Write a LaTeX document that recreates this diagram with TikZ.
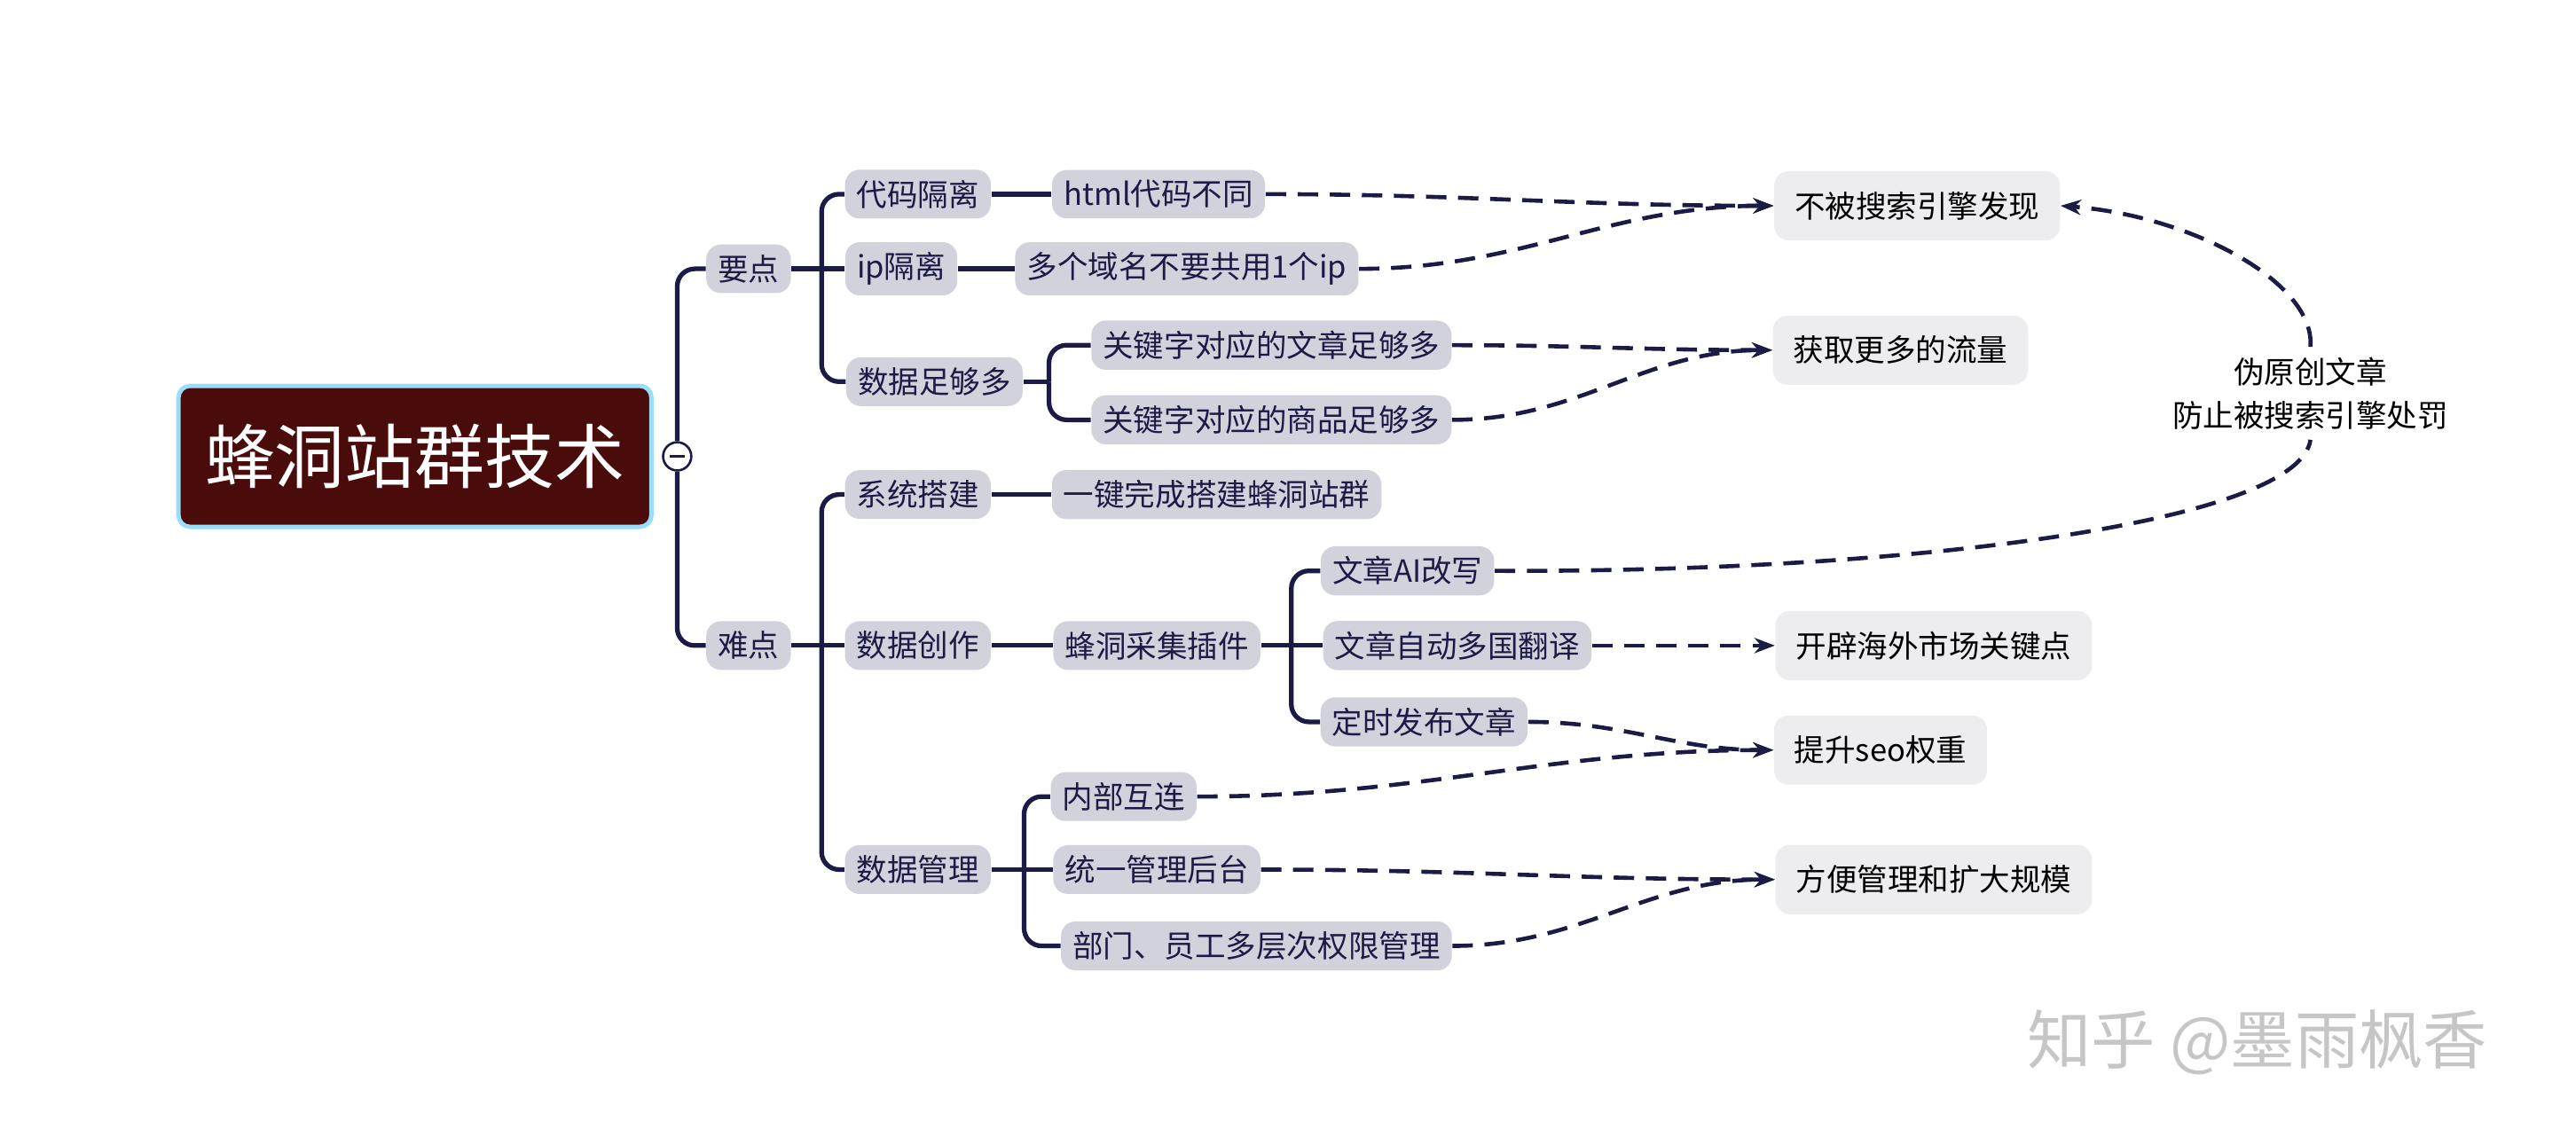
\documentclass[tikz,border=0pt]{standalone}
\usepackage{fontspec}
\setmainfont{Noto Sans CJK SC}
\usetikzlibrary{arrows.meta}
\definecolor{navy}{HTML}{1B1B45}
\definecolor{topicbg}{HTML}{D2D2DC}
\definecolor{notebg}{HTML}{EDEDF0}
\definecolor{rootbg}{HTML}{4A0B0B}
\tikzset{
  topic/.style={fill=topicbg,rounded corners=5pt,text=navy,inner xsep=4pt,inner ysep=3.5pt,font=\fontsize{10.5}{13}\selectfont},
  note/.style={fill=notebg,rounded corners=5pt,text=black,inner xsep=7pt,inner ysep=7pt,font=\fontsize{10.5}{13}\selectfont},
  tree/.style={draw=navy,line width=1.6pt,rounded corners=6pt},
  link/.style={draw=navy,line width=1.4pt,dash pattern=on 7pt off 4pt,-{Stealth[length=7pt]}}
}
\begin{document}
\begin{tikzpicture}[x=0.02cm,y=-0.02cm]
\useasboundingbox (0,0) rectangle (1552,685);
% root
\node[fill=rootbg,text=white,rounded corners=4pt,draw=cyan!40,line width=1.5pt,minimum width=5.7cm,minimum height=1.7cm,font=\fontsize{24}{28}\selectfont] (root) at (250,275) {蜂洞站群技术};
\node[circle,draw=navy,fill=white,line width=0.8pt,inner sep=0pt,minimum size=0.34cm] (fold) at (408,275) {};
\draw[navy,line width=0.8pt] ([xshift=-2.5pt]fold.center) -- ([xshift=2.5pt]fold.center);
% first level
\node[topic] (yd) at (451,162) {要点};
\node[topic] (nd) at (451,389) {难点};
\node[topic] (dmgl) at (553,117) {代码隔离};
\node[topic] (ipgl) at (543,162) {ip隔离};
\node[topic] (sjzg) at (563,230) {数据足够多};
\node[topic] (html) at (698,117) {html代码不同};
\node[topic] (dgym) at (715,162) {多个域名不要共用1个ip};
\node[topic] (wzzg) at (766,208) {关键字对应的文章足够多};
\node[topic] (spzg) at (766,253) {关键字对应的商品足够多};
\node[topic] (xtdj) at (553,298) {系统搭建};
\node[topic] (sjcz) at (553,389) {数据创作};
\node[topic] (sjgl) at (553,524) {数据管理};
\node[topic] (yjwc) at (733,298) {一键完成搭建蜂洞站群};
\node[topic] (cjcj) at (697,389) {蜂洞采集插件};
\node[topic] (aigx) at (848,344) {文章AI改写};
\node[topic] (dgfy) at (878,389) {文章自动多国翻译};
\node[topic] (dsfb) at (858,435) {定时发布文章};
\node[topic] (nbhl) at (677,480) {内部互连};
\node[topic] (tygl) at (697,524) {统一管理后台};
\node[topic] (bmyg) at (757,570) {部门、员工多层次权限管理};
% notes
\node[note] (bbss) at (1155,124) {不被搜索引擎发现};
\node[note] (hqll) at (1145,211) {获取更多的流量};
\node[note] (kpsc) at (1165,389) {开辟海外市场关键点};
\node[note] (tsqz) at (1133,452) {提升seo权重};
\node[note] (fbgl) at (1165,530) {方便管理和扩大规模};
\node[align=center,font=\fontsize{10.5}{15}\selectfont] (wyc) at (1392,237) {伪原创文章\\防止被搜索引擎处罚};
\node[text=gray!45,font=\fontsize{22}{26}\selectfont] (mark) at (1360,628) {知乎 @墨雨枫香};
% tree
\draw[tree] (fold.north) -- (408,185) |- (yd.west);
\draw[tree] (fold.south) -- (408,365) |- (nd.west);
\draw[tree] (yd.east) -- (495,162);
\draw[tree] (495,162) |- (dmgl.west);
\draw[tree] (495,162) |- (sjzg.west);
\draw[tree] (495,162) -- (ipgl.west);
\draw[tree] (dmgl.east) -- (html.west);
\draw[tree] (ipgl.east) -- (dgym.west);
\draw[tree] (sjzg.east) -- (632,230);
\draw[tree] (632,230) |- (wzzg.west);
\draw[tree] (632,230) |- (spzg.west);
\draw[tree] (nd.east) -- (495,389);
\draw[tree] (495,389) |- (xtdj.west);
\draw[tree] (495,389) |- (sjgl.west);
\draw[tree] (495,389) -- (sjcz.west);
\draw[tree] (xtdj.east) -- (yjwc.west);
\draw[tree] (sjcz.east) -- (cjcj.west);
\draw[tree] (cjcj.east) -- (778,389);
\draw[tree] (778,389) |- (aigx.west);
\draw[tree] (778,389) |- (dsfb.west);
\draw[tree] (778,389) -- (dgfy.west);
\draw[tree] (sjgl.east) -- (617,524);
\draw[tree] (617,524) |- (nbhl.west);
\draw[tree] (617,524) |- (bmyg.west);
\draw[tree] (617,524) -- (tygl.west);
% links
\draw[link] (html.east) to[out=0,in=180] (bbss.west);
\draw[link] (dgym.east) to[out=0,in=180] (bbss.west);
\draw[link] (wzzg.east) to[out=0,in=180] (hqll.west);
\draw[link] (spzg.east) to[out=0,in=180] (hqll.west);
\draw[link] (dgfy.east) to[out=0,in=180] (kpsc.west);
\draw[link] (dsfb.east) to[out=0,in=180] (tsqz.west);
\draw[link] (nbhl.east) to[out=0,in=180] (tsqz.west);
\draw[link] (tygl.east) to[out=0,in=180] (fbgl.west);
\draw[link] (bmyg.east) to[out=0,in=180] (fbgl.west);
\draw[link,-] (aigx.east) .. controls (1150,345) and (1385,315) .. (wyc.south);
\draw[link] (wyc.north) .. controls (1395,170) and (1320,130) .. (bbss.east);
\end{tikzpicture}
\end{document}
